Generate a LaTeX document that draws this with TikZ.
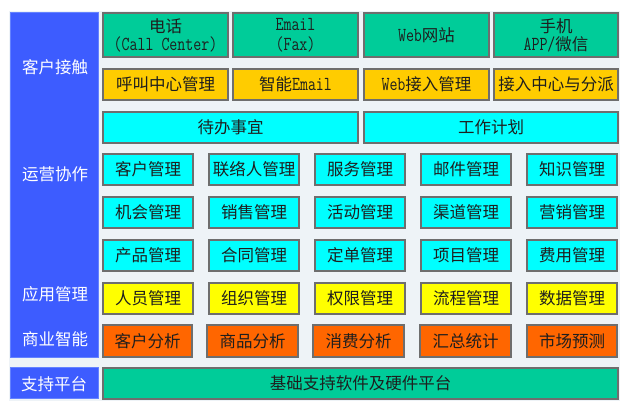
\documentclass[tikz,border=0pt]{standalone}
\usepackage{fontspec}
\setmainfont{Noto Sans CJK SC}
\setmonofont{Latin Modern Mono}
\definecolor{bgdot}{RGB}{238,243,247}
\definecolor{panelblue}{RGB}{61,92,255}
\definecolor{panelborder}{RGB}{100,130,255}
\definecolor{cgreen}{RGB}{0,204,153}
\definecolor{corange}{RGB}{255,204,0}
\definecolor{ccyan}{RGB}{0,255,255}
\definecolor{cyellow}{RGB}{255,255,0}
\definecolor{cred}{RGB}{255,102,0}
\definecolor{boxline}{RGB}{110,110,110}
\definecolor{txt}{RGB}{30,30,30}
\newcommand{\lat}[1]{\scalebox{1}[1.28]{\ttfamily\fontsize{15.5pt}{19pt}\selectfont #1}}
\tikzset{
  box/.style={draw=boxline, line width=1.1pt, anchor=north west, inner sep=0pt, outer sep=0pt,
    text=txt, align=center, font=\fontsize{16.5pt}{19pt}\selectfont},
  gbox/.style={box, fill=cgreen},
  obox/.style={box, fill=corange},
  cbox/.style={box, fill=ccyan},
  ybox/.style={box, fill=cyellow},
  rbox/.style={box, fill=cred},
  panel/.style={draw=panelborder, line width=1pt, fill=panelblue, anchor=north west, inner sep=0pt, outer sep=0pt},
  plabel/.style={text=white, font=\fontsize{16.5pt}{19pt}\selectfont},
  w5/.style={minimum width=90pt, minimum height=31pt}
}
\begin{document}
\begin{tikzpicture}[x=1pt,y=-1pt]
\path[fill=white] (0,0) rectangle (635,411);
\useasboundingbox (0,0) rectangle (635,411);
\fill[bgdot] (9,11) rectangle (620,401);
% left panels
\node[panel, minimum width=88pt, minimum height=345pt] (p1) at (10,13) {};
\node[panel, minimum width=88pt, minimum height=31pt] (p2) at (10,368) {};
\node[plabel] (l1) at (55,67) {客户接触};
\node[plabel] (l2) at (55,174) {运营协作};
\node[plabel] (l3) at (55,294) {应用管理};
\node[plabel] (l4) at (55,339) {商业智能};
\node[plabel] (l5) at (54,384) {支持平台};
% row 1
\node[gbox, minimum width=125pt, minimum height=44pt] (a1) at (103,13) {电话\\[-1pt]\lat{(Call Center)}};
\node[gbox, minimum width=125pt, minimum height=44pt] (a2) at (233,13) {\lat{Email}\\[1pt]\lat{(Fax)}};
\node[gbox, minimum width=125pt, minimum height=44pt] (a3) at (364,13) {\lat{Web}网站};
\node[gbox, minimum width=124pt, minimum height=44pt] (a4) at (494,13) {手机\\[-1pt]\lat{APP/}微信};
% row 2
\node[obox, minimum width=125pt, minimum height=31pt] (b1) at (103,69) {呼叫中心管理};
\node[obox, minimum width=125pt, minimum height=31pt] (b2) at (233,69) {智能\lat{Email}};
\node[obox, minimum width=125pt, minimum height=31pt] (b3) at (364,69) {\lat{Web}接入管理};
\node[obox, minimum width=124pt, minimum height=31pt] (b4) at (494,69) {接入中心与分派};
% row 3
\node[cbox, minimum width=255pt, minimum height=31pt] (c1) at (103,112) {待办事宜};
\node[cbox, minimum width=254pt, minimum height=31pt] (c2) at (364,112) {工作计划};
% row 4
\node[cbox, w5] (d1) at (103,154) {客户管理};
\node[cbox, w5] (d2) at (209,154) {联络人管理};
\node[cbox, w5] (d3) at (315,154) {服务管理};
\node[cbox, w5] (d4) at (421,154) {邮件管理};
\node[cbox, w5] (d5) at (527,154) {知识管理};
% row 5
\node[cbox, w5] (e1) at (103,197) {机会管理};
\node[cbox, w5] (e2) at (209,197) {销售管理};
\node[cbox, w5] (e3) at (315,197) {活动管理};
\node[cbox, w5] (e4) at (421,197) {渠道管理};
\node[cbox, w5] (e5) at (527,197) {营销管理};
% row 6
\node[cbox, w5] (f1) at (103,240) {产品管理};
\node[cbox, w5] (f2) at (209,240) {合同管理};
\node[cbox, w5] (f3) at (315,240) {定单管理};
\node[cbox, w5] (f4) at (421,240) {项目管理};
\node[cbox, w5] (f5) at (527,240) {费用管理};
% row 7
\node[ybox, w5] (g1) at (103,283) {人员管理};
\node[ybox, w5] (g2) at (209,283) {组织管理};
\node[ybox, w5] (g3) at (315,283) {权限管理};
\node[ybox, w5] (g4) at (421,283) {流程管理};
\node[ybox, w5] (g5) at (527,283) {数据管理};
% row 8
\node[rbox, minimum width=89pt, minimum height=32pt] (h1) at (103,325) {客户分析};
\node[rbox, minimum width=91pt, minimum height=32pt] (h2) at (207,325) {商品分析};
\node[rbox, minimum width=91pt, minimum height=32pt] (h3) at (313,325) {消费分析};
\node[rbox, minimum width=91pt, minimum height=32pt] (h4) at (420,325) {汇总统计};
\node[rbox, minimum width=90pt, minimum height=32pt] (h5) at (527,325) {市场预测};
% row 9
\node[gbox, minimum width=515pt, minimum height=31pt] (s1) at (103,368) {基础支持软件及硬件平台};
\end{tikzpicture}
\end{document}
